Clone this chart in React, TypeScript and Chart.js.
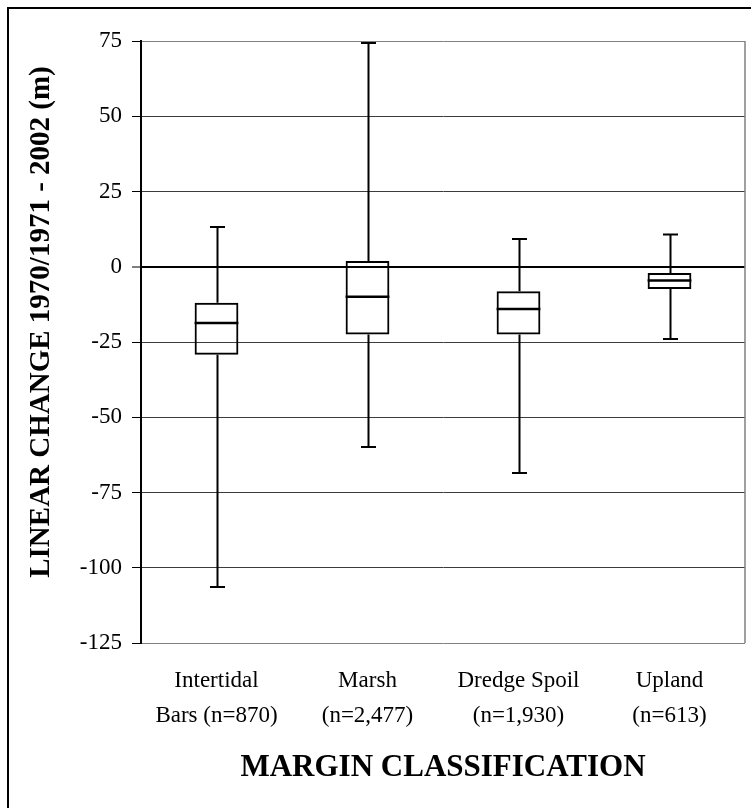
import React, { useEffect, useRef } from 'react';
import { Chart, registerables } from 'chart.js';

Chart.register(...registerables);

// ---- data ----
const categories: string[][] = [
  ['Intertidal', 'Bars (n=870)'],
  ['Marsh', '(n=2,477)'],
  ['Dredge Spoil', '(n=1,930)'],
  ['Upland', '(n=613)'],
];
const whiskerMax = [13.2, 74.3, 9.2, 10.7];
const quartile3 = [-12.0, 1.9, -8.1, -2.1];
const medians = [-18.7, -10.0, -14.0, -4.6];
const quartile1 = [-29.2, -22.5, -22.5, -7.4];
const whiskerMin = [-106.4, -59.9, -68.5, -24.0];
const yMin = -125;
const yMax = 75;
const yStep = 25;
const yTitle = 'LINEAR CHANGE 1970/1971 - 2002 (m)';
const xTitle = 'MARGIN CLASSIFICATION';

const SERIF = '"Liberation Serif", "Times New Roman", serif';

const framePlugin = {
  id: 'frame',
  beforeDraw(chart: any) {
    const { ctx, width, height } = chart;
    ctx.save();
    ctx.fillStyle = '#ffffff';
    ctx.fillRect(0, 0, width, height);
    ctx.strokeStyle = '#000000';
    ctx.lineWidth = 2;
    ctx.strokeRect(8, 8, width + 20, height + 20);
    ctx.restore();
  },
  beforeDatasetsDraw(chart: any) {
    const { ctx, chartArea } = chart;
    ctx.save();
    ctx.strokeStyle = '#808080';
    ctx.lineWidth = 1.5;
    ctx.beginPath();
    ctx.moveTo(chartArea.right, chartArea.top);
    ctx.lineTo(chartArea.right, chartArea.bottom);
    ctx.stroke();
    ctx.restore();
  },
  afterDraw(chart: any) {
    const { ctx } = chart;
    ctx.save();
    ctx.translate(42, 322);
    ctx.rotate(-Math.PI / 2);
    ctx.fillStyle = '#000000';
    ctx.font = `bold 29px ${SERIF}`;
    ctx.textAlign = 'center';
    ctx.textBaseline = 'middle';
    ctx.fillText(yTitle, 0, 0);
    ctx.restore();
  },
};

const whiskerPlugin = {
  id: 'whiskers',
  afterDatasetsDraw(chart: any) {
    const { ctx } = chart;
    const y = chart.scales.y;
    const meta = chart.getDatasetMeta(0);
    ctx.save();
    ctx.strokeStyle = '#000000';
    ctx.lineCap = 'butt';
    meta.data.forEach((bar: any, i: number) => {
      const x = Math.round(bar.x) + 0.5;
      const half = bar.width / 2;
      const capHalf = 7.5;
      const pMax = y.getPixelForValue(whiskerMax[i]);
      const pQ3 = y.getPixelForValue(quartile3[i]);
      const pMed = y.getPixelForValue(medians[i]);
      const pQ1 = y.getPixelForValue(quartile1[i]);
      const pMin = y.getPixelForValue(whiskerMin[i]);
      ctx.lineWidth = 2;
      ctx.beginPath();
      ctx.moveTo(x, pQ3);
      ctx.lineTo(x, pMax);
      ctx.moveTo(x, pQ1);
      ctx.lineTo(x, pMin);
      ctx.moveTo(x - capHalf, pMax);
      ctx.lineTo(x + capHalf, pMax);
      ctx.moveTo(x - capHalf, pMin);
      ctx.lineTo(x + capHalf, pMin);
      ctx.stroke();
      ctx.lineWidth = 2.5;
      ctx.beginPath();
      ctx.moveTo(bar.x - half, pMed);
      ctx.lineTo(bar.x + half, pMed);
      ctx.stroke();
    });
    ctx.restore();
  },
};

export default function App() {
  const canvasRef = useRef<HTMLCanvasElement | null>(null);

  useEffect(() => {
    if (!canvasRef.current) return;
    const boxes = quartile1.map((v, i) => [v, quartile3[i]]);
    const chart = new Chart(canvasRef.current, {
      type: 'bar',
      data: {
        labels: categories,
        datasets: [
          {
            data: boxes as any,
            backgroundColor: 'rgba(0,0,0,0)',
            borderColor: '#000000',
            borderWidth: 2,
            borderSkipped: false,
            barPercentage: 0.29,
            categoryPercentage: 1,
          },
        ],
      },
      options: {
        responsive: false,
        animation: false,
        events: [],
        layout: { padding: { top: 41, right: 6, left: 0, bottom: 0 } },
        plugins: {
          legend: { display: false },
          tooltip: { enabled: false },
          title: { display: false },
        },
        scales: {
          x: {
            type: 'category',
            grid: { display: false, drawTicks: false },
            border: { display: false },
            ticks: {
              color: '#000000',
              padding: 21,
              maxRotation: 0,
              autoSkip: false,
              font: { family: SERIF, size: 23, lineHeight: 1.5 },
            },
            title: {
              display: true,
              text: xTitle,
              color: '#000000',
              font: { family: SERIF, size: 31, weight: 'bold', lineHeight: 1.2 },
              padding: { top: 0, bottom: 21 },
            },
            afterFit(scale: any) {
              scale.height = 165;
            },
          },
          y: {
            min: yMin,
            max: yMax,
            ticks: {
              stepSize: yStep,
              color: '#000000',
              padding: 10,
              font: { family: SERIF, size: 23 },
            },
            grid: {
              color: (c: any) =>
                c.tick && c.tick.value === 0
                  ? '#000000'
                  : c.tick && (c.tick.value === yMax || c.tick.value === yMin)
                  ? '#808080'
                  : '#3c3c3c',
              lineWidth: (c: any) => (c.tick && c.tick.value === 0 ? 2 : 1),
              tickColor: '#000000',
              tickLength: 9,
              tickWidth: 1,
              drawTicks: true,
            },
            border: { display: true, color: '#000000', width: 2 },
            afterFit(scale: any) {
              scale.width = 141;
            },
          },
        },
      },
      plugins: [framePlugin, whiskerPlugin],
    });
    return () => chart.destroy();
  }, []);

  return (
    <div style={{ position: 'absolute', left: 0, top: 0, width: 751, height: 808, background: '#fff' }}>
      <canvas ref={canvasRef} width={751} height={808} style={{ display: 'block' }} />
    </div>
  );
}
